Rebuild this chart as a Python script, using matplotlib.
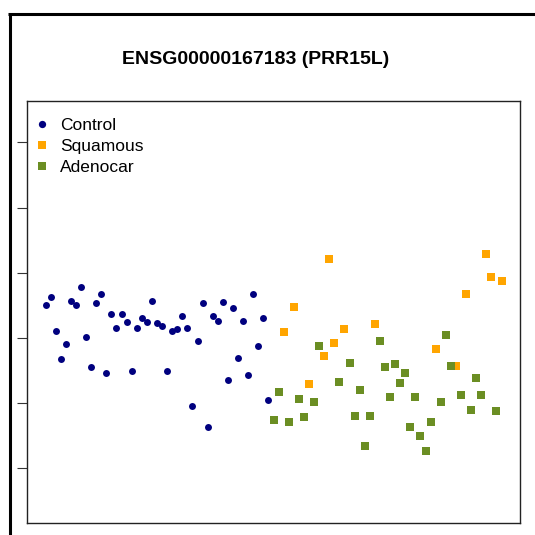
import numpy as np
import matplotlib
matplotlib.use("Agg")
from matplotlib import pyplot as plt
from matplotlib.lines import Line2D

plt.rcParams['font.family'] = ['Liberation Sans', 'DejaVu Sans']

title = 'ENSG00000167183 (PRR15L)'

# sample order along x: 45 controls then the tumour samples
control = [6.50, 6.63, 6.11, 5.67, 5.91, 6.56, 6.50, 6.78, 6.02, 5.56,
           6.53, 6.67, 5.47, 6.37, 6.16, 6.37, 6.24, 5.49, 6.16, 6.30,
           6.24, 6.56, 6.23, 6.19, 5.49, 6.11, 6.13, 6.34, 6.15, 4.95,
           5.95, 6.53, 4.63, 6.33, 6.26, 6.55, 5.36, 6.46, 5.70, 6.26,
           5.44, 6.68, 5.88, 6.30, 5.05]

# tumour samples: S = squamous, A = adenocarcinoma
tumour_group = ['A', 'A', 'S', 'A', 'S', 'A', 'A', 'S', 'A', 'A',
                'S', 'S', 'S', 'A', 'S', 'A', 'A', 'A', 'A', 'A',
                'S', 'A', 'A', 'A', 'A', 'A', 'A', 'A', 'A', 'A',
                'A', 'A', 'S', 'A', 'A', 'A', 'S', 'A', 'S', 'A',
                'A', 'A', 'S', 'S', 'A', 'S']
tumour_value = [4.75, 5.17, 6.09, 4.71, 6.48, 5.06, 4.79, 5.30, 5.02, 5.88,
                5.73, 7.21, 5.93, 5.32, 6.14, 5.61, 4.81, 5.21, 4.34, 4.80,
                6.21, 5.96, 5.55, 5.09, 5.60, 5.31, 5.46, 4.64, 5.09, 4.49,
                4.27, 4.71, 5.83, 5.02, 6.05, 5.57, 5.57, 5.12, 6.68, 4.90,
                5.39, 5.12, 7.29, 6.93, 4.88, 6.88]

yticks = [4, 5, 6, 7, 8, 9]
ylim = (3.4, 9.4)

col_control = '#00007F'
col_squam = '#FFA500'
col_adeno = '#6B8E23'

n_ctrl = len(control)
x_ctrl = np.arange(1, n_ctrl + 1)
x_tum = np.arange(n_ctrl + 1, n_ctrl + 1 + len(tumour_value))
tumour_group = np.array(tumour_group)
tumour_value = np.array(tumour_value)

fig = plt.figure(figsize=(5.35, 5.35), dpi=100)
ax = fig.add_axes([0.051, 0.022, 0.9205, 0.7901])

ax.plot(x_ctrl, control, 'o', color=col_control, ms=5.0, mew=0, label='Control')
sq = tumour_group == 'S'
ad = tumour_group == 'A'
ax.plot(x_tum[sq], tumour_value[sq], 's', color=col_squam, ms=5.4, mew=0, label='Squamous')
ax.plot(x_tum[ad], tumour_value[ad], 's', color=col_adeno, ms=5.4, mew=0, label='Adenocar')

n_all = n_ctrl + len(tumour_value)
pad = (n_all - 1) * 0.04
ax.set_xlim(1 - pad, n_all + pad)
ypad = (ylim[1] - ylim[0]) * 0.04
ax.set_ylim(ylim[0] - ypad, ylim[1] + ypad)

ax.set_xticks([])
ax.set_yticks(yticks)
ax.set_yticklabels([])
ax.tick_params(axis='y', length=7, width=0.8, color='#333333')
for s in ax.spines.values():
    s.set_linewidth(1.0)
    s.set_color('#222222')

ax.legend(loc='upper left', frameon=False, fontsize=12.5, handlelength=1.0,
          handletextpad=0.5, borderaxespad=0, borderpad=0, labelspacing=0.34,
          markerscale=1.05, bbox_to_anchor=(6.5 / 492.4, 1 - 17 / 422.8))

fig.text(255.7 / 535, 1 - 60 / 535, title, ha='center', va='center',
         fontsize=14, fontweight='bold')

# outer frame (left and top edges visible)
fig.add_artist(Line2D([9.5 / 535, 9.5 / 535], [0, 1 - 13.5 / 535], color='black',
                      lw=2.2, transform=fig.transFigure, solid_capstyle='butt'))
fig.add_artist(Line2D([8 / 535, 1], [1 - 13.5 / 535, 1 - 13.5 / 535], color='black',
                      lw=2.2, transform=fig.transFigure, solid_capstyle='butt'))

fig.savefig('out.png', dpi=100)
